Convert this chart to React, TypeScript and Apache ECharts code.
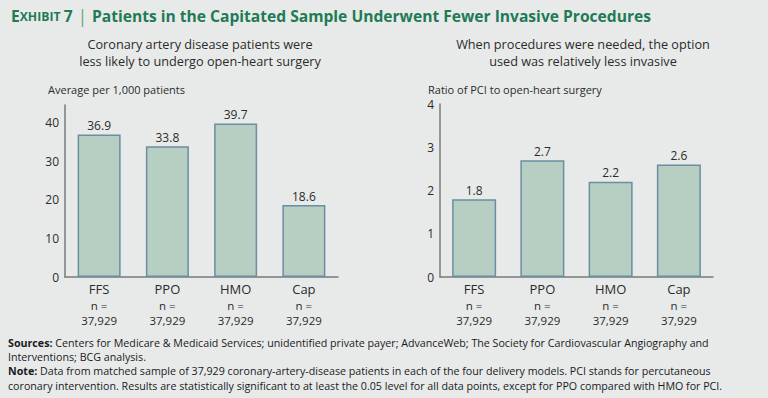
import React, { useEffect, useRef } from "react";
import * as echarts from "echarts";

const categories = ["FFS", "PPO", "HMO", "Cap"];
const sampleSizes = ["37,929", "37,929", "37,929", "37,929"];
const surgeryPer1000 = [36.9, 33.8, 39.7, 18.6];
const pciRatio = [1.8, 2.7, 2.2, 2.6];
const leftTicks = [0, 10, 20, 30, 40];
const rightTicks = [0, 1, 2, 3, 4];

const FONT = "'Open Sans', 'Noto Sans', sans-serif";
const TEXT = "#2b2b2b";
const AXIS = "#7a7a7a";
const GREEN = "#1f7a55";

export default function App() {
  const ref = useRef<HTMLDivElement>(null);
  useEffect(() => {
    if (!ref.current) return;
    const chart = echarts.init(ref.current, undefined, { renderer: "svg" });
    const xAxisCommon = (gridIndex: number) => ({
      type: "category",
      gridIndex,
      data: categories,
      axisLine: { show: true, lineStyle: { color: AXIS, width: 1.5 } },
      axisTick: { show: false },
      axisLabel: {
        margin: 3,
        interval: 0,
        formatter: (v: string) => {
          const i = categories.indexOf(v);
          return `{a|${v}}\n{b|n =}\n{b|${sampleSizes[i]}}`;
        },
        rich: {
          a: { fontFamily: FONT, fontSize: 13, color: TEXT, lineHeight: 17.5 },
          b: { fontFamily: FONT, fontSize: 11.5, color: TEXT, lineHeight: 15 },
        },
      },
    });
    const yAxisCommon = (gridIndex: number, max: number, interval: number, ticks: number[]) => ({
      type: "value",
      gridIndex,
      min: 0,
      max,
      interval,
      splitLine: { show: false },
      axisTick: { show: false },
      axisLine: { show: true, lineStyle: { color: AXIS, width: 1.5 } },
      axisLabel: {
        margin: 6,
        fontFamily: FONT,
        fontSize: 12,
        color: TEXT,
        formatter: (v: number) => (ticks.includes(v) ? String(v) : ""),
      },
    });
    const barStyle = {
      color: "#b6cfc2",
      borderColor: "#6a8ea2",
      borderWidth: 1.5,
    };
    const labelStyle = {
      show: true,
      position: "top",
      distance: 3,
      fontFamily: FONT,
      fontSize: 12,
      color: TEXT,
      formatter: (p: any) => p.value.toFixed(1),
    };
    chart.setOption({
      animation: false,
      backgroundColor: "#e8eaea",
      grid: [
        { left: 65, top: 105, width: 273, height: 172 },
        { left: 440, top: 104, width: 273, height: 173 },
      ],
      xAxis: [xAxisCommon(0), xAxisCommon(1)],
      yAxis: [yAxisCommon(0, 44.5, 10, leftTicks), yAxisCommon(1, 4, 1, rightTicks)],
      series: [
        {
          type: "bar",
          xAxisIndex: 0,
          yAxisIndex: 0,
          data: surgeryPer1000,
          barWidth: 43,
          itemStyle: barStyle,
          label: labelStyle,
        },
        {
          type: "bar",
          xAxisIndex: 1,
          yAxisIndex: 1,
          data: pciRatio,
          barWidth: 44,
          itemStyle: barStyle,
          label: labelStyle,
        },
      ],
      graphic: [
        {
          type: "text",
          left: 11,
          top: 7,
          style: {
            text: "{big|E}{sm|XHIBIT} {big|7}{bar| | }{big|Patients in the Capitated Sample Underwent Fewer Invasive Procedures}",
            rich: {
              big: { fontFamily: FONT, fontWeight: "bold", fontSize: 15.6, fill: GREEN },
              sm: { fontFamily: FONT, fontWeight: "bold", fontSize: 12.2, fill: GREEN },
              bar: { fontFamily: FONT, fontSize: 18, fill: "#7a9a8a" },
            },
          },
        },
        {
          type: "text",
          x: 200,
          y: 35,
          style: {
            text: "Coronary artery disease patients were\nless likely to undergo open-heart surgery",
            align: "center",
            fontFamily: FONT,
            fontSize: 12.7,
            lineHeight: 17,
            fill: TEXT,
          },
        },
        {
          type: "text",
          x: 583,
          y: 35,
          style: {
            text: "When procedures were needed, the option\nused was relatively less invasive",
            align: "center",
            fontFamily: FONT,
            fontSize: 12.7,
            lineHeight: 17,
            fill: TEXT,
          },
        },
        {
          type: "text",
          x: 48,
          y: 84,
          style: { text: "Average per 1,000 patients", fontFamily: FONT, fontSize: 11, fill: TEXT },
        },
        {
          type: "text",
          x: 428,
          y: 84,
          style: { text: "Ratio of PCI to open-heart surgery", fontFamily: FONT, fontSize: 11, fill: TEXT },
        },
        {
          type: "text",
          x: 8,
          y: 335,
          scaleX: 0.972,
          style: {
            text:
              "{b|Sources:} Centers for Medicare & Medicaid Services; unidentified private payer; AdvanceWeb; The Society for Cardiovascular Angiography and\nInterventions; BCG analysis.\n{b|Note:} Data from matched sample of 37,929 coronary-artery-disease patients in each of the four delivery models. PCI stands for percutaneous\ncoronary intervention. Results are statistically significant to at least the 0.05 level for all data points, except for PPO compared with HMO for PCI.",
            fontFamily: FONT,
            fontSize: 11,
            lineHeight: 14.3,
            fill: "#1a1a1a",
            rich: {
              b: { fontFamily: FONT, fontSize: 11, fontWeight: "bold", fill: "#1a1a1a", lineHeight: 14.3 },
            },
          },
        },
      ],
    });
    return () => chart.dispose();
  }, []);
  return (
    <div
      ref={ref}
      style={{ position: "fixed", left: 0, top: 0, width: 768, height: 398 }}
    />
  );
}
